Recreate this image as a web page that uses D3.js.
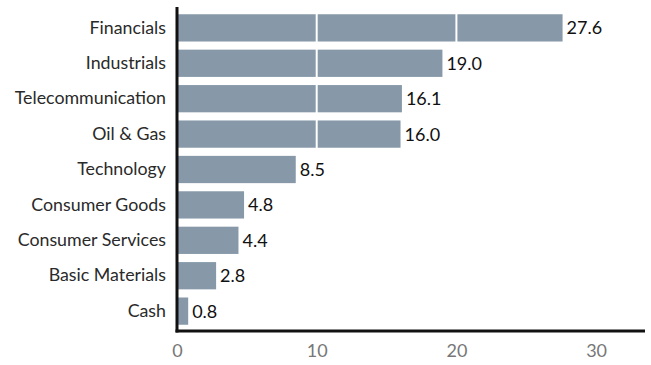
<!DOCTYPE html>
<html>
<head>
<meta charset="utf-8">
<style>
    body { margin: 0; background: #fff; }
    svg { display: block; font-family: Lato, "Open Sans", sans-serif; }
</style>
</head>
<body>
<div id="chart"></div>
<script src="https://d3js.org/d3.v7.min.js"></script>
<script>
    var sectors = ["Financials", "Industrials", "Telecommunication", "Oil & Gas", "Technology",
        "Consumer Goods", "Consumer Services", "Basic Materials", "Cash"];
    var weights = [27.6, 19.0, 16.1, 16.0, 8.5, 4.8, 4.4, 2.8, 0.8];
    var xTicks = [0, 10, 20, 30];

    var width = 651, height = 365;
    var margin = {top: 10, right: 6, bottom: 34, left: 177};

    const svg = d3.select("#chart").append("svg")
        .attr("width", width)
        .attr("height", height);

    var x = d3.scaleLinear()
        .domain([0, 33.5])
        .range([margin.left, width - margin.right]);

    var y = d3.scaleBand()
        .domain(sectors)
        .range([margin.top, height - margin.bottom - 2])
        .paddingInner(0.23)
        .paddingOuter(0.12);

    // bars
    svg.append("g").selectAll("rect")
        .data(sectors)
        .join("rect")
        .attr("x", x(0))
        .attr("y", d => y(d))
        .attr("width", (d, i) => x(weights[i]) - x(0))
        .attr("height", y.bandwidth())
        .attr("fill", "#8799a8");

    // white gridlines over the bars
    svg.append("g").selectAll("line")
        .data(xTicks.filter(t => t > 0 && t < 30))
        .join("line")
        .attr("x1", d => x(d)).attr("x2", d => x(d))
        .attr("y1", margin.top).attr("y2", height - margin.bottom)
        .attr("stroke", "#fff")
        .attr("stroke-width", 2);

    // value labels
    svg.append("g").selectAll("text")
        .data(sectors)
        .join("text")
        .attr("x", (d, i) => x(weights[i]) + 4)
        .attr("y", d => y(d) + y.bandwidth() / 2)
        .attr("dy", "0.36em")
        .attr("font-size", "18px")
        .attr("fill", "#111")
        .text((d, i) => weights[i].toFixed(1));

    // category axis
    const yAxis = svg.append("g")
        .attr("transform", `translate(${margin.left},0)`)
        .call(d3.axisLeft(y).tickSize(0).tickPadding(11));
    yAxis.select(".domain").remove();
    yAxis.selectAll("text")
        .attr("font-size", "17.8px")
        .attr("font-family", "Lato, 'Open Sans', sans-serif")
        .attr("fill", "#2a2a2a");

    // value axis
    const xAxis = svg.append("g")
        .attr("transform", `translate(0,${height - margin.bottom})`)
        .call(d3.axisBottom(x).tickValues(xTicks).tickSize(0).tickPadding(13));
    xAxis.select(".domain").remove();
    xAxis.selectAll("text")
        .attr("font-size", "18px")
        .attr("font-family", "Lato, 'Open Sans', sans-serif")
        .attr("fill", "#777");

    // axis lines
    svg.append("line")
        .attr("x1", margin.left).attr("x2", margin.left)
        .attr("y1", 7).attr("y2", height - margin.bottom + 1.5)
        .attr("stroke", "#111").attr("stroke-width", 3);
    svg.append("line")
        .attr("x1", margin.left - 1.5).attr("x2", width - margin.right)
        .attr("y1", height - margin.bottom).attr("y2", height - margin.bottom)
        .attr("stroke", "#111").attr("stroke-width", 3);
</script>
</body>
</html>
